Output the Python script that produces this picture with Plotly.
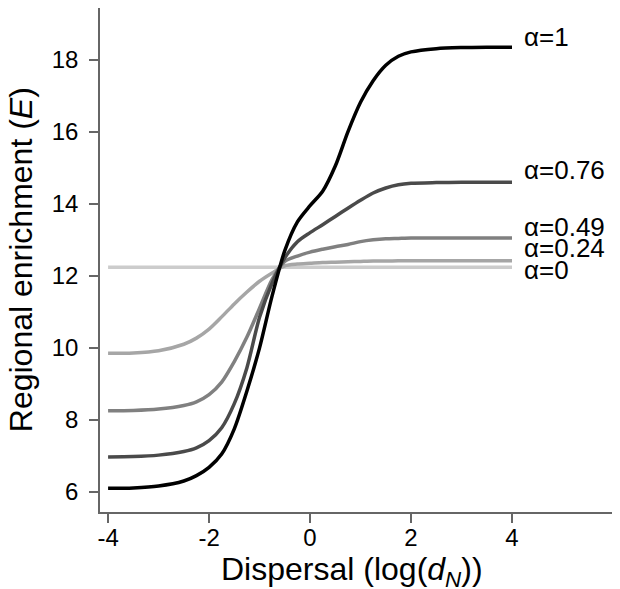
import plotly.graph_objects as go

x_vals = [-4, -3.5, -3, -2.5, -2.25, -2, -1.75, -1.5, -1.25, -1, -0.75, -0.5,
          -0.25, 0, 0.25, 0.5, 0.75, 1, 1.25, 1.5, 1.75, 2, 2.5, 3, 3.5, 4]

e_alpha_1 = [6.10, 6.11, 6.16, 6.30, 6.45, 6.68, 7.05, 7.75, 8.80, 10.0, 11.45, 12.7,
             13.5, 13.95, 14.35, 15.05, 16.0, 16.82, 17.42, 17.85, 18.1, 18.22, 18.31, 18.34, 18.35, 18.35]
e_alpha_076 = [6.97, 6.98, 7.02, 7.12, 7.22, 7.42, 7.78, 8.45, 9.45, 10.85, 11.8, 12.5,
               12.95, 13.2, 13.42, 13.65, 13.88, 14.1, 14.3, 14.44, 14.53, 14.57, 14.59, 14.6, 14.6, 14.6]
e_alpha_049 = [8.25, 8.26, 8.30, 8.40, 8.50, 8.70, 9.05, 9.62, 10.3, 11.1, 11.9, 12.4,
               12.55, 12.66, 12.74, 12.81, 12.87, 12.95, 13.0, 13.03, 13.04, 13.05, 13.05, 13.05, 13.05, 13.05]
e_alpha_024 = [9.85, 9.86, 9.92, 10.1, 10.27, 10.52, 10.86, 11.22, 11.55, 11.85, 12.08, 12.28,
               12.33, 12.35, 12.37, 12.38, 12.39, 12.40, 12.41, 12.41, 12.42, 12.42, 12.42, 12.42, 12.42, 12.42]
e_alpha_0 = [12.24] * len(x_vals)

series_names = ["α=0", "α=0.24", "α=0.49", "α=0.76", "α=1"]
series_values = [e_alpha_0, e_alpha_024, e_alpha_049, e_alpha_076, e_alpha_1]
series_colors = ["#cccccc", "#a6a6a6", "#808080", "#4a4a4a", "#000000"]
label_y = [12.17, 12.77, 13.37, 14.93, 18.64]

x_ticks = [-4, -2, 0, 2, 4]
y_ticks = [6, 8, 10, 12, 14, 16, 18]

x_title = "Dispersal (log(<i>d</i><sub><i>N</i></sub>))"
y_title = "Regional enrichment (<i>E</i>)"

font_family = "Liberation Sans, Arial, Helvetica, sans-serif"

fig = go.Figure()
for name, vals, col in zip(series_names, series_values, series_colors):
    fig.add_trace(go.Scatter(x=x_vals, y=vals, mode="lines", name=name,
                             line=dict(color=col, width=3.5, shape="spline", smoothing=0.8),
                             showlegend=False, hoverinfo="skip"))

for name, ly in zip(series_names, label_y):
    fig.add_annotation(x=4.2, y=ly, xref="x", yref="y", text=name, showarrow=False,
                       xanchor="left", yanchor="middle",
                       font=dict(size=26, color="black", family=font_family))

# axis titles
fig.add_annotation(x=0.49, y=-0.118, xref="paper", yref="paper", text=x_title,
                   showarrow=False, xanchor="center", yanchor="middle",
                   font=dict(size=32, color="black", family=font_family))
fig.add_annotation(x=-0.153, y=0.50, xref="paper", yref="paper", text=y_title,
                   showarrow=False, xanchor="center", yanchor="middle", textangle=-90,
                   font=dict(size=32, color="black", family=font_family))

axis_common = dict(showline=True, linecolor="#666666", linewidth=1.5, ticks="outside",
                   ticklen=9, tickwidth=1.5, tickcolor="#666666", showgrid=False, zeroline=False,
                   automargin=False,
                   tickfont=dict(size=24, color="black", family=font_family))

# page is drawn with an 8px body offset; margins compensate
fig.update_layout(
    width=620, height=589,
    margin=dict(l=92, r=13, t=0, b=85),
    paper_bgcolor="white", plot_bgcolor="white",
    xaxis=dict(range=[-4.16, 6.04], tickvals=x_ticks, ticktext=[str(v) for v in x_ticks],
               ticklabelstandoff=-6, **axis_common),
    yaxis=dict(range=[5.44, 19.44], tickvals=y_ticks, ticktext=[str(v) for v in y_ticks],
               ticklabelstandoff=6, **axis_common),
)

fig.write_html("out.html")
